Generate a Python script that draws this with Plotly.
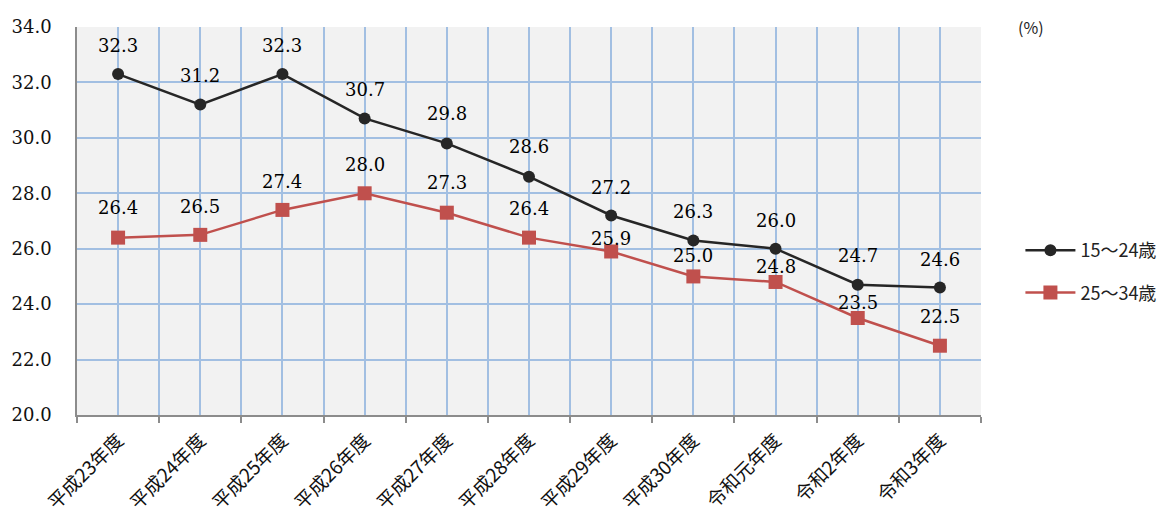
import plotly.graph_objects as go

categories = ["平成23年度", "平成24年度", "平成25年度", "平成26年度", "平成27年度",
              "平成28年度", "平成29年度", "平成30年度", "令和元年度", "令和2年度", "令和3年度"]
series_names = ["15～24歳", "25～34歳"]
youth_15_24 = [32.3, 31.2, 32.3, 30.7, 29.8, 28.6, 27.2, 26.3, 26.0, 24.7, 24.6]
youth_25_34 = [26.4, 26.5, 27.4, 28.0, 27.3, 26.4, 25.9, 25.0, 24.8, 23.5, 22.5]
y_ticks = [20, 22, 24, 26, 28, 30, 32, 34]

# label offsets (pixels above point)
off_1 = [29, 29, 29, 29, 30, 30, 28, 29, 28, 29, 28]
off_2 = [30, 28, 28, 29, 30, 29, 13, 21, 15, 16, 29]

xs = list(range(len(categories)))
BLACK = "#262626"
RED = "#c0504d"
GRID = "#a2bfe2"
AXIS = "#8c8c8c"
SERIF = "DejaVu Serif"
SANS = "Noto Sans CJK JP"

fig = go.Figure()
fig.add_trace(go.Scatter(
    x=xs, y=youth_15_24, name=series_names[0], mode="lines+markers",
    line=dict(color=BLACK, width=2.5),
    marker=dict(symbol="circle", size=12, color=BLACK),
    legendgroup="a"))
fig.add_trace(go.Scatter(
    x=xs, y=youth_25_34, name=series_names[1], mode="lines+markers",
    line=dict(color=RED, width=2.5),
    marker=dict(symbol="square", size=14, color=RED),
    legendgroup="b"))

annotations = []
for vals, offs in ((youth_15_24, off_1), (youth_25_34, off_2)):
    for x, v, o in zip(xs, vals, offs):
        annotations.append(dict(
            x=x, y=v, text=f"{v:.1f}", showarrow=False, yshift=o,
            yanchor="middle", xanchor="center",
            font=dict(family=SERIF, size=18, color="#000000")))
annotations.append(dict(
    xref="paper", yref="paper", x=1.039, y=1.0, text="(%)", showarrow=False,
    xanchor="left", yanchor="middle", font=dict(family=SANS, size=16, color="#222222")))

boundaries = [i - 0.5 for i in range(len(categories) + 1)]

# page body has an 8px default margin; compensate so plot area sits at x 77-981, y 27-415
fig.update_layout(
    width=1167, height=512,
    margin=dict(l=69, r=194, t=19, b=105, pad=0, autoexpand=False),
    paper_bgcolor="white", plot_bgcolor="#f2f2f2",
    showlegend=True,
    legend=dict(x=1.0436, y=0.37, xanchor="left", yanchor="middle",
                font=dict(family=SANS, size=18, color="#222222"),
                traceorder="grouped", tracegroupgap=16, itemwidth=50,
                bgcolor="rgba(0,0,0,0)"),
    annotations=annotations,
    xaxis=dict(
        range=[-0.5, len(categories) - 0.5],
        tickmode="array", tickvals=xs, ticktext=categories,
        tickangle=-45, ticks="", automargin=False, ticklabelstandoff=5,
        tickfont=dict(family=SANS, size=19, color="#111111"),
        showgrid=True, gridcolor=GRID, gridwidth=1.6,
        showline=True, linecolor=AXIS, linewidth=1.6,
        zeroline=False,
        minor=dict(tickmode="array", tickvals=boundaries, ticks="outside",
                   ticklen=6, tickcolor=AXIS, tickwidth=1.6,
                   showgrid=True, gridcolor=GRID, gridwidth=1.6),
    ),
    yaxis=dict(
        range=[20, 34], tickmode="array", tickvals=y_ticks,
        ticktext=[f"{v:.1f}" for v in y_ticks],
        ticks="", ticklabelstandoff=20, automargin=False,
        tickfont=dict(family=SERIF, size=18, color="#111111"),
        showgrid=True, gridcolor=GRID, gridwidth=1.6,
        showline=True, linecolor=AXIS, linewidth=1.6,
        zeroline=False,
    ),
)

fig.write_html("out.html")
